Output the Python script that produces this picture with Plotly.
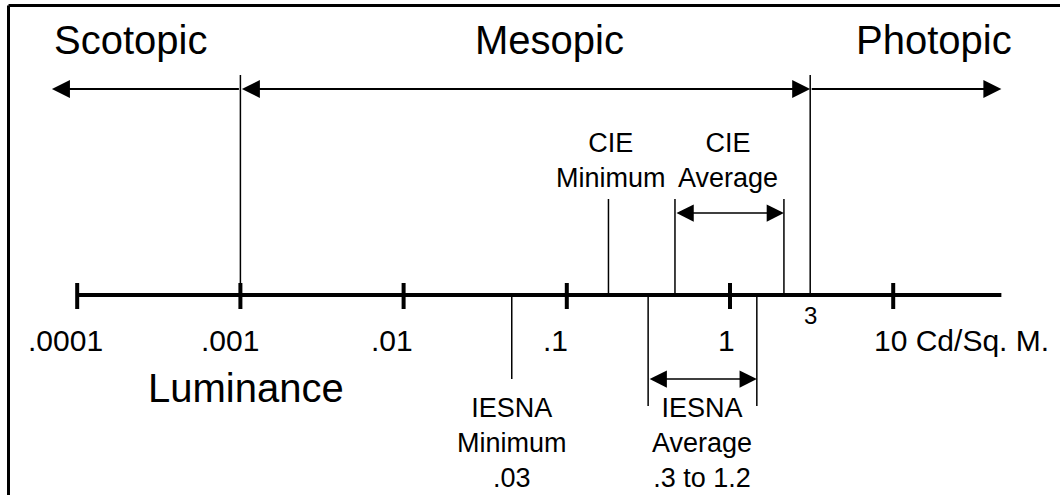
import math
import plotly.graph_objects as go

# luminance scale, cd/m2
decade_ticks = [1e-4, 1e-3, 1e-2, 1e-1, 1, 10]
tick_labels = [".0001", ".001", ".01", ".1", "1", "10 Cd/Sq. M."]
tick_shift = [-12, -10, -12, -11, -4, -21]
axis_span = [1e-4, 46]

# vision regimes
scotopic_limit = 0.001
photopic_limit = 3.1
arrow_ends = [7e-5, 46]

# recommended levels
cie_minimum = 0.18
cie_average = [0.46, 2.14]
iesna_minimum = 0.046
iesna_average = [0.315, 1.46]

FONT = "Liberation Sans, Arial, sans-serif"
AXIS_Y = 295

fig = go.Figure()


def vline(x, y0, y1, width=1.5):
    fig.add_trace(go.Scatter(x=[x, x], y=[y0, y1], mode="lines",
                             line=dict(color="black", width=width),
                             hoverinfo="skip"))


def arrow(a, b, y, heads="end+start", width=2, size=1.8):
    # arrow drawn from a (tail) to b (tip)
    fig.add_annotation(x=math.log10(b), y=y, ax=math.log10(a), ay=y,
                       xref="x", yref="y", axref="x", ayref="y",
                       text="", showarrow=True, arrowside=heads,
                       arrowhead=2, startarrowhead=2,
                       arrowsize=size, startarrowsize=size,
                       arrowwidth=width, arrowcolor="black")


# main axis with decade ticks
fig.add_trace(go.Scatter(x=axis_span, y=[AXIS_Y, AXIS_Y], mode="lines",
                         line=dict(color="black", width=4), hoverinfo="skip"))
tx, ty = [], []
for t in decade_ticks:
    tx += [t, t, None]
    ty += [AXIS_Y - 12, AXIS_Y + 14, None]
fig.add_trace(go.Scatter(x=tx, y=ty, mode="lines",
                         line=dict(color="black", width=4), hoverinfo="skip"))

for t, lab, sh in zip(decade_ticks, tick_labels, tick_shift):
    last = lab == tick_labels[-1]
    fig.add_annotation(x=math.log10(t), y=340, text=lab, showarrow=False,
                       xanchor="left" if last else "center", xshift=sh,
                       font=dict(family=FONT, size=30, color="black"))

# regime boundaries and arrows
vline(scotopic_limit, 75, AXIS_Y)
vline(photopic_limit, 75, AXIS_Y)
arrow(scotopic_limit, arrow_ends[0], 89, heads="end")
arrow(scotopic_limit, photopic_limit, 89)
arrow(photopic_limit, arrow_ends[1], 89, heads="end")

# CIE levels (above axis)
vline(cie_minimum, 199, AXIS_Y)
for v in cie_average:
    vline(v, 199, AXIS_Y)
arrow(cie_average[0], cie_average[1], 213, width=1.5, size=2.3)

# IESNA levels (below axis)
vline(iesna_minimum, AXIS_Y, 379)
for v in iesna_average:
    vline(v, AXIS_Y, 406)
arrow(iesna_average[0], iesna_average[1], 379, width=1.5, size=2.3)

fig.add_annotation(x=math.log10(photopic_limit), y=315, text="3", showarrow=False,
                   font=dict(family=FONT, size=24, color="black"))

big = dict(family=FONT, size=40, color="black")
small = dict(family=FONT, size=27, color="black")
labels = [
    ("Scotopic", 130, 40, big),
    ("Mesopic", 549, 40, big),
    ("Photopic", 934, 40, big),
    ("Luminance", 246, 388, big),
    ("CIE<br>Minimum", 611, 160, small),
    ("CIE<br>Average", 728, 160, small),
    ("IESNA<br>Minimum<br>.03", 512, 443, small),
    ("IESNA<br>Average<br>.3 to 1.2", 702, 443, small),
]
for text, px, py, f in labels:
    fig.add_annotation(x=px / 1060, y=py, xref="paper", yref="y", text=text,
                       xanchor="center", yanchor="middle",
                       showarrow=False, font=f)

# frame (left and top edges only)
fig.add_shape(type="line", xref="paper", yref="y", x0=8.5 / 1060, x1=8.5 / 1060,
              y0=5.5, y1=495, line=dict(color="black", width=3))
fig.add_shape(type="line", xref="paper", yref="y", x0=8.5 / 1060, x1=1,
              y0=5.5, y1=5.5, line=dict(color="black", width=3))

fig.update_layout(
    width=1060, height=495,
    margin=dict(l=0, r=0, t=0, b=0),
    showlegend=False,
    paper_bgcolor="white", plot_bgcolor="white",
    xaxis=dict(type="log", range=[-4.473, 2.022], visible=False, fixedrange=True),
    yaxis=dict(range=[495, 0], visible=False, fixedrange=True),
)

fig.write_html("out.html", config={"displayModeBar": False},
               post_script="document.body.style.margin='0';")
